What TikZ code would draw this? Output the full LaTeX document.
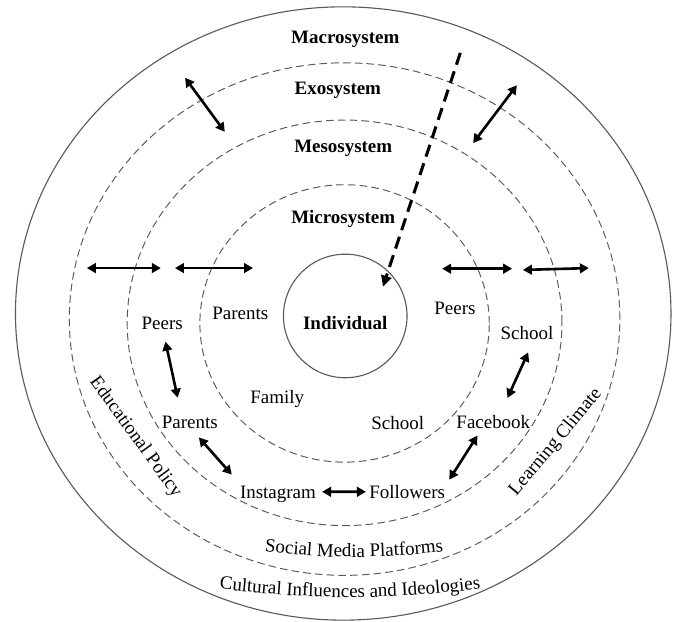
\documentclass[tikz,border=0pt]{standalone}
\usepackage{fontspec}
\setmainfont{Liberation Serif}
\usepackage{tikz}
\usetikzlibrary{arrows.meta,decorations.text}
\newcommand{\lblfont}{\fontsize{13.7pt}{16pt}\selectfont}

\begin{document}
\begin{tikzpicture}
  \begin{scope}[x={(6.73in,0in)},y={(0in,6.22in)},every
    node/.style={font=\lblfont,inner sep=1pt,text height=9.4pt,text depth=3pt},
    sysname/.style={font=\lblfont\bfseries},
    ring/.style={black!65,line width=.7pt,dash pattern=on 5.5pt off 3pt},
    biarr/.style={<->,>={Triangle[length=6.5pt,width=7pt]},line width=1.9pt}]
    \useasboundingbox (0,0) rectangle (1,1);

    % the four systems round the individual
    \draw[black!65,line width=.8pt] (.510,.496) ellipse [x radius=.487,y radius=.493];
    \draw[ring] (.512,.487) ellipse [x radius=.409,y radius=.412];
    \draw[ring] (.512,.481) ellipse [x radius=.323,y radius=.326];
    \draw[ring] (.512,.480) ellipse [x radius=.215,y radius=.223];
    \node[circle,draw=black!65,line width=.8pt,minimum size=89.3pt,inner sep=0pt] (Ind) at (.513,.492) {};

    \node[sysname] (Mac) at (.513,.937) {Macrosystem};
    \node[sysname] (Exo) at (.502,.855) {Exosystem};
    \node[sysname] (Mes) at (.510,.762) {Mesosystem};
    \node[sysname] (Mic) at (.510,.648) {Microsystem};
    \node[sysname] (Ind_L) at (.513,.478) {Individual};

    \node (Mic_Pa) at (.357,.494) {Parents};
    \node (Mic_Pe) at (.676,.502) {Peers};
    \node (Mic_Fa) at (.412,.359) {Family};
    \node (Mic_Sc) at (.591,.317) {School};

    \node (Mes_Pe) at (.241,.478) {Peers};
    \node (Mes_Pa) at (.282,.318) {Parents};
    \node (Mes_Sc) at (.783,.461) {School};
    \node (Mes_Fb) at (.733,.318) {Facebook};
    \node (Mes_Ig) at (.413,.206) {Instagram};
    \node (Mes_Fo) at (.605,.206) {Followers};

    \node[rotate=-54] (Exo_Ed) at (.201,.297) {Educational Policy};
    \node[rotate=50] (Exo_Le) at (.826,.289) {Learning Climate};

    \coordinate (Sm_A) at (.363,.117);
    \coordinate (Sm_B) at (.689,.117);
    \path[decorate,decoration={text along path,text align=center,
      text={|\lblfont|Social Media Platforms}}] (Sm_A) to[bend right=7] (Sm_B);
    \coordinate (Cu_A) at (.297,.057);
    \coordinate (Cu_B) at (.743,.057);
    \path[decorate,decoration={text along path,text align=center,
      text={|\lblfont|Cultural Influences and Ideologies}}] (Cu_A) to[bend right=7] (Cu_B);

    \draw[biarr,shorten <=5pt,shorten >=12pt] (Mes_Pe.-80) -- (Mes_Pa.130);
    \draw[biarr,shorten <=2.9pt,shorten >=8.7pt] (Mes_Pa.-58) -- (Mes_Ig.165);
    \draw[biarr,shorten <=3.3pt,shorten >=1.2pt] (Mes_Ig.3) -- (Mes_Fo.177);
    \draw[biarr,shorten <=3.4pt,shorten >=.9pt] (Mes_Fo.north east) -- (Mes_Fb.-146);
    \draw[biarr,shorten <=12.7pt,shorten >=5.5pt] (Mes_Fb.56) -- (Mes_Sc.-67);

    % arrows across the rings
    \coordinate (T1_A) at (.275,.875);
    \coordinate (T1_B) at (.334,.788);
    \coordinate (T2_A) at (.768,.863);
    \coordinate (T2_B) at (.703,.770);
    \draw[biarr] (T1_A) -- (T1_B);
    \draw[biarr] (T2_A) -- (T2_B);
    \coordinate (H1_A) at (.129,.569);
    \coordinate (H1_B) at (.239,.569);
    \coordinate (H2_A) at (.260,.569);
    \coordinate (H2_B) at (.376,.569);
    \coordinate (H3_A) at (.657,.568);
    \coordinate (H3_B) at (.761,.568);
    \coordinate (H4_A) at (.777,.566);
    \coordinate (H4_B) at (.875,.569);
    \draw[biarr] (H1_A) -- (H1_B);
    \draw[biarr] (H2_A) -- (H2_B);
    \draw[biarr] (H3_A) -- (H3_B);
    \draw[biarr] (H4_A) -- (H4_B);

    \coordinate (D_A) at (.684,.915);
    \coordinate (D_B) at (.569,.539);
    \draw[line width=2.2pt,dash pattern=on 9pt off 5pt,-{Triangle[length=8pt,width=7.5pt]}] (D_A) -- (D_B);
  \end{scope}
\end{tikzpicture}
\end{document}
